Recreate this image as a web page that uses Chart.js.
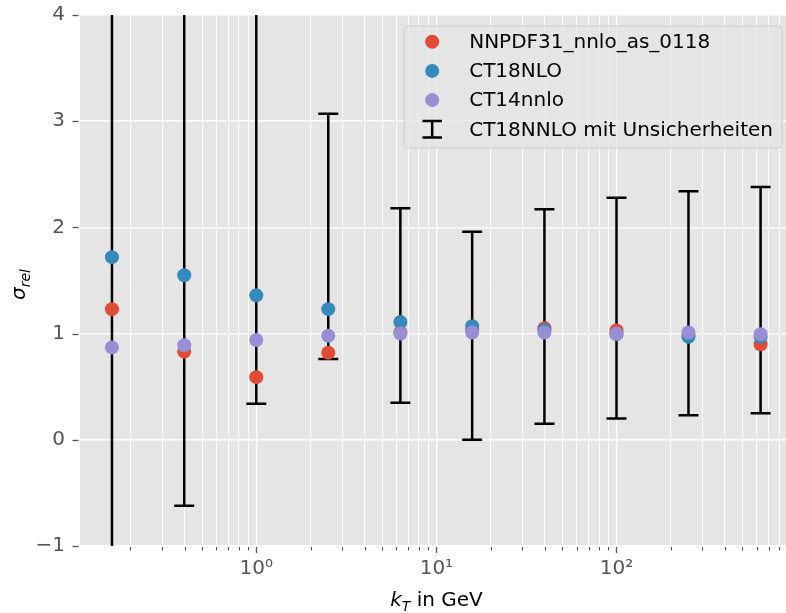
<!DOCTYPE html>
<html>
<head>
<meta charset="utf-8">
<title>sigma_rel vs kT</title>
<script src="https://cdn.jsdelivr.net/npm/chart.js@4.4.1/dist/chart.umd.min.js"></script>
<style>
  html, body { margin: 0; padding: 0; background: #ffffff; overflow: hidden; }
  #wrap { width: 786px; height: 613px; overflow: hidden; }
</style>
</head>
<body>
<div id="wrap"><canvas id="sigmaChart" width="800" height="613"></canvas></div>
<script>
/* ---- data ---- */
const ktValues = [0.158, 0.398, 1.0, 2.51, 6.31, 15.8, 39.8, 100, 251, 631];

const nnpdf31 = [1.23, 0.83, 0.59, 0.82, 1.01, 1.03, 1.05, 1.03, 0.99, 0.90];
const ct18nlo = [1.72, 1.55, 1.36, 1.23, 1.11, 1.07, 1.035, 0.995, 0.97, 0.97];
const ct14nnlo = [0.87, 0.89, 0.94, 0.98, 1.00, 1.01, 1.01, 1.00, 1.01, 0.995];

// CT18NNLO uncertainty band (lower / upper end of each error bar)
const ct18nnloLow = [-2.4, -0.62, 0.34, 0.76, 0.35, 0.00, 0.15, 0.20, 0.23, 0.25];
const ct18nnloHigh = [5.9, 4.6, 4.3, 3.07, 2.18, 1.96, 2.17, 2.28, 2.34, 2.38];

const seriesLabels = ["NNPDF31_nnlo_as_0118", "CT18NLO", "CT14nnlo"];
const errorBarLabel = "CT18NNLO mit Unsicherheiten";

const xMajorTicks = [1, 10, 100];
const xTickLabels = ["10\u2070", "10\u00B9", "10\u00B2"];
const yTickValues = [-1, 0, 1, 2, 3, 4];

/* ---- ggplot-ish palette ---- */
const RED = "#E24A33";
const BLUE = "#348ABD";
const PURPLE = "#988ED5";
const PANEL = "#E5E5E5";
const TICK_GREY = "#555555";
const FONT = "'DejaVu Sans', 'Liberation Sans', sans-serif";

Chart.defaults.font.family = FONT;

// log axis: decades with the 2..9 minor positions
const xTickValues = [];
for (let e = -1; e <= 2; e++) {
    for (let m = 1; m <= 9; m++) {
        const v = m * Math.pow(10, e);
        if (v >= 0.105 && v <= 955) xTickValues.push(Number(v.toPrecision(3)));
    }
}

function points(ys) {
    return ktValues.map((x, i) => ({ x: x, y: ys[i] }));
}

/* ---- error bars, drawn under the points ---- */
const errorBars = {
    id: "errorBars",
    beforeDatasetsDraw(chart) {
        const { ctx, chartArea: a, scales: { x, y } } = chart;
        ctx.save();
        ctx.beginPath();
        ctx.rect(a.left, a.top, a.right - a.left, a.bottom - a.top);
        ctx.clip();
        ctx.strokeStyle = "#000";
        ctx.lineWidth = 2.5;
        ktValues.forEach((kt, i) => {
            const px = x.getPixelForValue(kt);
            const lo = y.getPixelForValue(ct18nnloLow[i]);
            const hi = y.getPixelForValue(ct18nnloHigh[i]);
            ctx.beginPath();
            ctx.moveTo(px, lo); ctx.lineTo(px, hi);
            ctx.moveTo(px - 10, lo); ctx.lineTo(px + 10, lo);
            ctx.moveTo(px - 10, hi); ctx.lineTo(px + 10, hi);
            ctx.stroke();
        });
        ctx.restore();
    }
};

/* ---- outward tick marks (major longer than minor) ---- */
const tickMarks = {
    id: "tickMarks",
    afterDraw(chart) {
        const { ctx, chartArea: a, scales: { x, y } } = chart;
        ctx.save();
        ctx.strokeStyle = TICK_GREY;
        x.ticks.forEach(t => {
            const px = Math.round(x.getPixelForValue(t.value)) + 0.5;
            ctx.lineWidth = t.major ? 1.3 : 1;
            ctx.beginPath();
            ctx.moveTo(px, a.bottom + 1);
            ctx.lineTo(px, a.bottom + (t.major ? 7 : 4.5));
            ctx.stroke();
        });
        ctx.lineWidth = 1.3;
        y.ticks.forEach(t => {
            const py = Math.round(y.getPixelForValue(t.value)) + 0.5;
            ctx.beginPath();
            ctx.moveTo(a.left - 7.5, py);
            ctx.lineTo(a.left - 1.5, py);
            ctx.stroke();
        });
        ctx.restore();
    }
};

/* ---- axis titles with math-style sub scripts ---- */
const axisTitles = {
    id: "axisTitles",
    afterDraw(chart) {
        const { ctx, chartArea: a } = chart;
        ctx.save();
        ctx.fillStyle = "#000";
        ctx.textBaseline = "alphabetic";
        ctx.textAlign = "left";

        // x: k_T in GeV
        const big = "italic 20px " + FONT, small = "italic 14px " + FONT, plain = "20px " + FONT;
        ctx.font = big; const wk = ctx.measureText("k").width;
        ctx.font = small; const wt = ctx.measureText("T").width;
        ctx.font = plain; const wr = ctx.measureText(" in GeV").width;
        let x0 = (a.left + a.right) / 2 - (wk + wt + wr) / 2;
        const base = 606;
        ctx.font = big; ctx.fillText("k", x0, base); x0 += wk;
        ctx.font = small; ctx.fillText("T", x0, base + 4.5); x0 += wt;
        ctx.font = plain; ctx.fillText(" in GeV", x0, base);

        // y: sigma_rel
        ctx.translate(25, (a.top + a.bottom) / 2 + 4);
        ctx.rotate(-Math.PI / 2);
        ctx.font = big; const ws = ctx.measureText("\u03C3").width;
        ctx.font = small; const wrel = ctx.measureText("rel").width;
        let s0 = -(ws + wrel) / 2;
        ctx.font = big; ctx.fillText("\u03C3", s0, 0); s0 += ws;
        ctx.font = small; ctx.fillText("rel", s0, 4.5);
        ctx.restore();
    }
};

/* ---- framed legend in the upper right corner of the panel ---- */
const cornerLegend = {
    id: "cornerLegend",
    afterDraw(chart) {
        const { ctx, chartArea: a } = chart;
        const items = chart.data.datasets.map(ds => ({ text: ds.label, color: ds.backgroundColor, bar: false }));
        items.push({ text: errorBarLabel, bar: true });

        ctx.save();
        ctx.font = "20px " + FONT;
        const textW = Math.max(...items.map(it => ctx.measureText(it.text).width));
        const w = 28 + 37 + textW + 9;
        const h = 122;
        const right = a.right - 11;
        const left = right - w;
        const top = a.top + 11;

        ctx.beginPath();
        ctx.roundRect(left, top, w, h, 4);
        ctx.fillStyle = "rgba(229,229,229,0.8)";
        ctx.fill();
        ctx.strokeStyle = "#cccccc";
        ctx.lineWidth = 1;
        ctx.stroke();

        items.forEach((it, i) => {
            const cy = top + 15.7 + i * 29.2;
            const cx = left + 28;
            if (it.bar) {
                ctx.strokeStyle = "#000";
                ctx.lineWidth = 2.5;
                ctx.beginPath();
                ctx.moveTo(cx, cy - 8.3); ctx.lineTo(cx, cy + 8.3);
                ctx.moveTo(cx - 9.7, cy - 8.3); ctx.lineTo(cx + 9.7, cy - 8.3);
                ctx.moveTo(cx - 9.7, cy + 8.3); ctx.lineTo(cx + 9.7, cy + 8.3);
                ctx.stroke();
            } else {
                ctx.fillStyle = it.color;
                ctx.beginPath();
                ctx.arc(cx, cy, 7, 0, Math.PI * 2);
                ctx.fill();
            }
            ctx.fillStyle = "#000";
            ctx.textBaseline = "middle";
            ctx.fillText(it.text, left + 65, cy + 1);
        });
        ctx.restore();
    }
};

/* ---- panel background ---- */
const panelBackground = {
    id: "panelBackground",
    beforeDraw(chart) {
        const { ctx, chartArea: a } = chart;
        ctx.save();
        ctx.fillStyle = PANEL;
        ctx.fillRect(a.left, a.top, a.right - a.left, a.bottom - a.top);
        ctx.restore();
    }
};

function dotSet(label, ys, color, order) {
    return {
        label: label,
        data: points(ys),
        backgroundColor: color,
        borderColor: color,
        pointRadius: 7,
        pointHoverRadius: 7,
        pointBorderWidth: 0,
        showLine: false,
        order: order
    };
}

new Chart(document.getElementById("sigmaChart"), {
    type: "scatter",
    data: {
        datasets: [
            dotSet(seriesLabels[0], nnpdf31, RED, 3),
            dotSet(seriesLabels[1], ct18nlo, BLUE, 2),
            dotSet(seriesLabels[2], ct14nnlo, PURPLE, 1)
        ]
    },
    options: {
        responsive: false,
        animation: false,
        events: [],
        layout: { padding: { top: 15, right: 5, left: 0, bottom: 0 } },
        scales: {
            x: {
                type: "logarithmic",
                min: 0.105,
                max: 955,
                afterBuildTicks(scale) {
                    scale.ticks = xTickValues.map(v => ({ value: v, major: xMajorTicks.includes(v) }));
                },
                afterFit(scale) {
                    scale.height = 67;
                    scale.paddingLeft = 0;
                    scale.paddingRight = 0;
                },
                ticks: {
                    autoSkip: false,
                    maxRotation: 0,
                    padding: 11,
                    color: TICK_GREY,
                    font: { size: 20 },
                    callback(value) {
                        const k = xMajorTicks.indexOf(value);
                        return k >= 0 ? xTickLabels[k] : "";
                    }
                },
                grid: {
                    color: "#ffffff",
                    lineWidth: c => (c.tick && c.tick.major ? 1.4 : 0.9),
                    drawTicks: false
                },
                border: { display: false }
            },
            y: {
                type: "linear",
                min: -1,
                max: 4,
                afterBuildTicks(scale) {
                    scale.ticks = yTickValues.map(v => ({ value: v }));
                },
                afterFit(scale) {
                    scale.width = 80;
                    scale.paddingTop = 0;
                    scale.paddingBottom = 0;
                },
                ticks: {
                    padding: 15,
                    color: TICK_GREY,
                    font: { size: 20 },
                    callback(value) {
                        return value < 0 ? "\u2212" + Math.abs(value) : String(value);
                    }
                },
                grid: {
                    color: "#ffffff",
                    lineWidth: 1.4,
                    drawTicks: false
                },
                border: { display: false }
            }
        },
        plugins: {
            legend: { display: false },
            tooltip: { enabled: false }
        }
    },
    plugins: [panelBackground, errorBars, tickMarks, axisTitles, cornerLegend]
});
</script>
</body>
</html>
